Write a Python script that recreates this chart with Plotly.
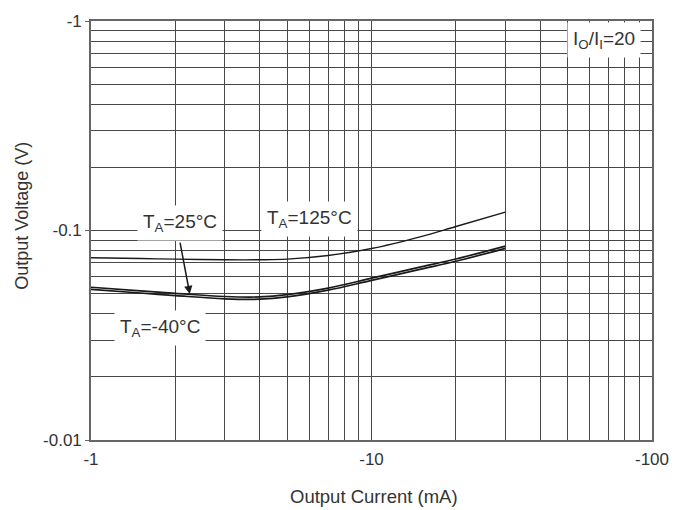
import math
import plotly.graph_objects as go

# Output current (mA) sample points for each curve
current_mA = [-1, -1.5, -2, -3, -4, -5, -7, -10, -15, -20, -30]

# Output voltage (V) at each current, I_O/I_I = 20
vout_125C = [-0.0741, -0.0735, -0.0730, -0.0725, -0.0725, -0.0730, -0.0760, -0.0820, -0.0935, -0.1045, -0.1224]
vout_25C = [-0.0536, -0.0515, -0.0501, -0.0484, -0.0482, -0.0494, -0.0531, -0.0592, -0.0670, -0.0731, -0.0842]
vout_m40C = [-0.0524, -0.0503, -0.0489, -0.0472, -0.0470, -0.0482, -0.0519, -0.0578, -0.0654, -0.0713, -0.0822]

# Axis ticks
x_major = [-1, -10, -100]
x_major_text = ["-1", "-10", "-100"]
y_major = [-0.01, -0.1, -1]
y_major_text = ["-0.01", "-0.1", "-1"]

FONT = "Liberation Sans, Arial, sans-serif"
INK = "#333333"
GRID = "#484848"


def mag(vals):
    return [abs(v) for v in vals]


def minor_vals(lo_exp, hi_exp):
    out = []
    for e in range(lo_exp, hi_exp):
        for k in range(2, 10):
            out.append(k * 10 ** e)
    return out


fig = go.Figure()

for vals, w in [(vout_125C, 1.4), (vout_25C, 1.7), (vout_m40C, 1.7)]:
    fig.add_trace(go.Scatter(
        x=mag(current_mA), y=mag(vals), mode="lines",
        line=dict(color="#1a1a1a", width=w, shape="spline", smoothing=1.0),
        showlegend=False, hoverinfo="skip",
    ))

fig.update_xaxes(
    type="log", range=[0, 2],
    tickvals=mag(x_major), ticktext=x_major_text,
    ticks="", showgrid=True, gridcolor=GRID, gridwidth=1.4,
    minor=dict(tickvals=minor_vals(0, 2), showgrid=True, gridcolor=GRID, gridwidth=1.4, ticks=""),
    showline=True, linecolor="#666666", linewidth=1.6, mirror=True,
    tickfont=dict(family=FONT, size=17, color=INK),
    ticklabelstandoff=3, zeroline=False,
)
fig.update_yaxes(
    type="log", range=[-2, 0],
    tickvals=mag(y_major), ticktext=y_major_text,
    ticks="outside", ticklen=4, tickcolor="#666666", tickwidth=1.4,
    showgrid=True, gridcolor=GRID, gridwidth=1.4,
    minor=dict(tickvals=minor_vals(-2, 0), showgrid=True, gridcolor=GRID, gridwidth=1.4, ticks=""),
    showline=True, linecolor="#666666", linewidth=1.6, mirror=True,
    tickfont=dict(family=FONT, size=17, color=INK),
    zeroline=False,
)

lab_font = dict(family=FONT, size=19, color=INK)


def label(text, x, y, **kw):
    # x, y in data units; annotations on log axes take log10 positions
    fig.add_annotation(
        x=math.log10(x), y=math.log10(y), text=text, showarrow=False,
        font=lab_font, bgcolor="white", borderpad=5, **kw,
    )


label("T<sub>A</sub>=25°C", 2.07, 0.109)
label("T<sub>A</sub>=125°C", 6.0, 0.114)
label("T<sub>A</sub>=-40°C", 1.76, 0.0343)
label("I<sub>O</sub>/I<sub>I</sub>=20", 67.5, 0.814)

# Arrow from the 25 °C label down to its curve
fig.add_annotation(
    x=math.log10(2.25), y=math.log10(0.0497), text="",
    showarrow=True, arrowhead=2, arrowsize=1.1, arrowwidth=1.5, arrowcolor="#1a1a1a",
    ax=-10, ay=-53, axref="pixel", ayref="pixel",
)

# Axis titles
fig.add_annotation(
    xref="paper", yref="paper", x=0.505, y=-0.134, text="Output Current (mA)",
    showarrow=False, font=dict(family=FONT, size=18.5, color=INK),
    xanchor="center", yanchor="middle",
)
fig.add_annotation(
    xref="paper", yref="paper", x=-0.123, y=0.535, text="Output Voltage (V)",
    showarrow=False, font=dict(family=FONT, size=18, color=INK), textangle=-90,
    xanchor="center", yanchor="middle",
)

fig.update_layout(
    width=691, height=510,
    margin=dict(l=91, r=39, t=14, b=70),
    paper_bgcolor="white", plot_bgcolor="white",
    font=dict(family=FONT, color=INK),
)

fig.write_html("out.html")
